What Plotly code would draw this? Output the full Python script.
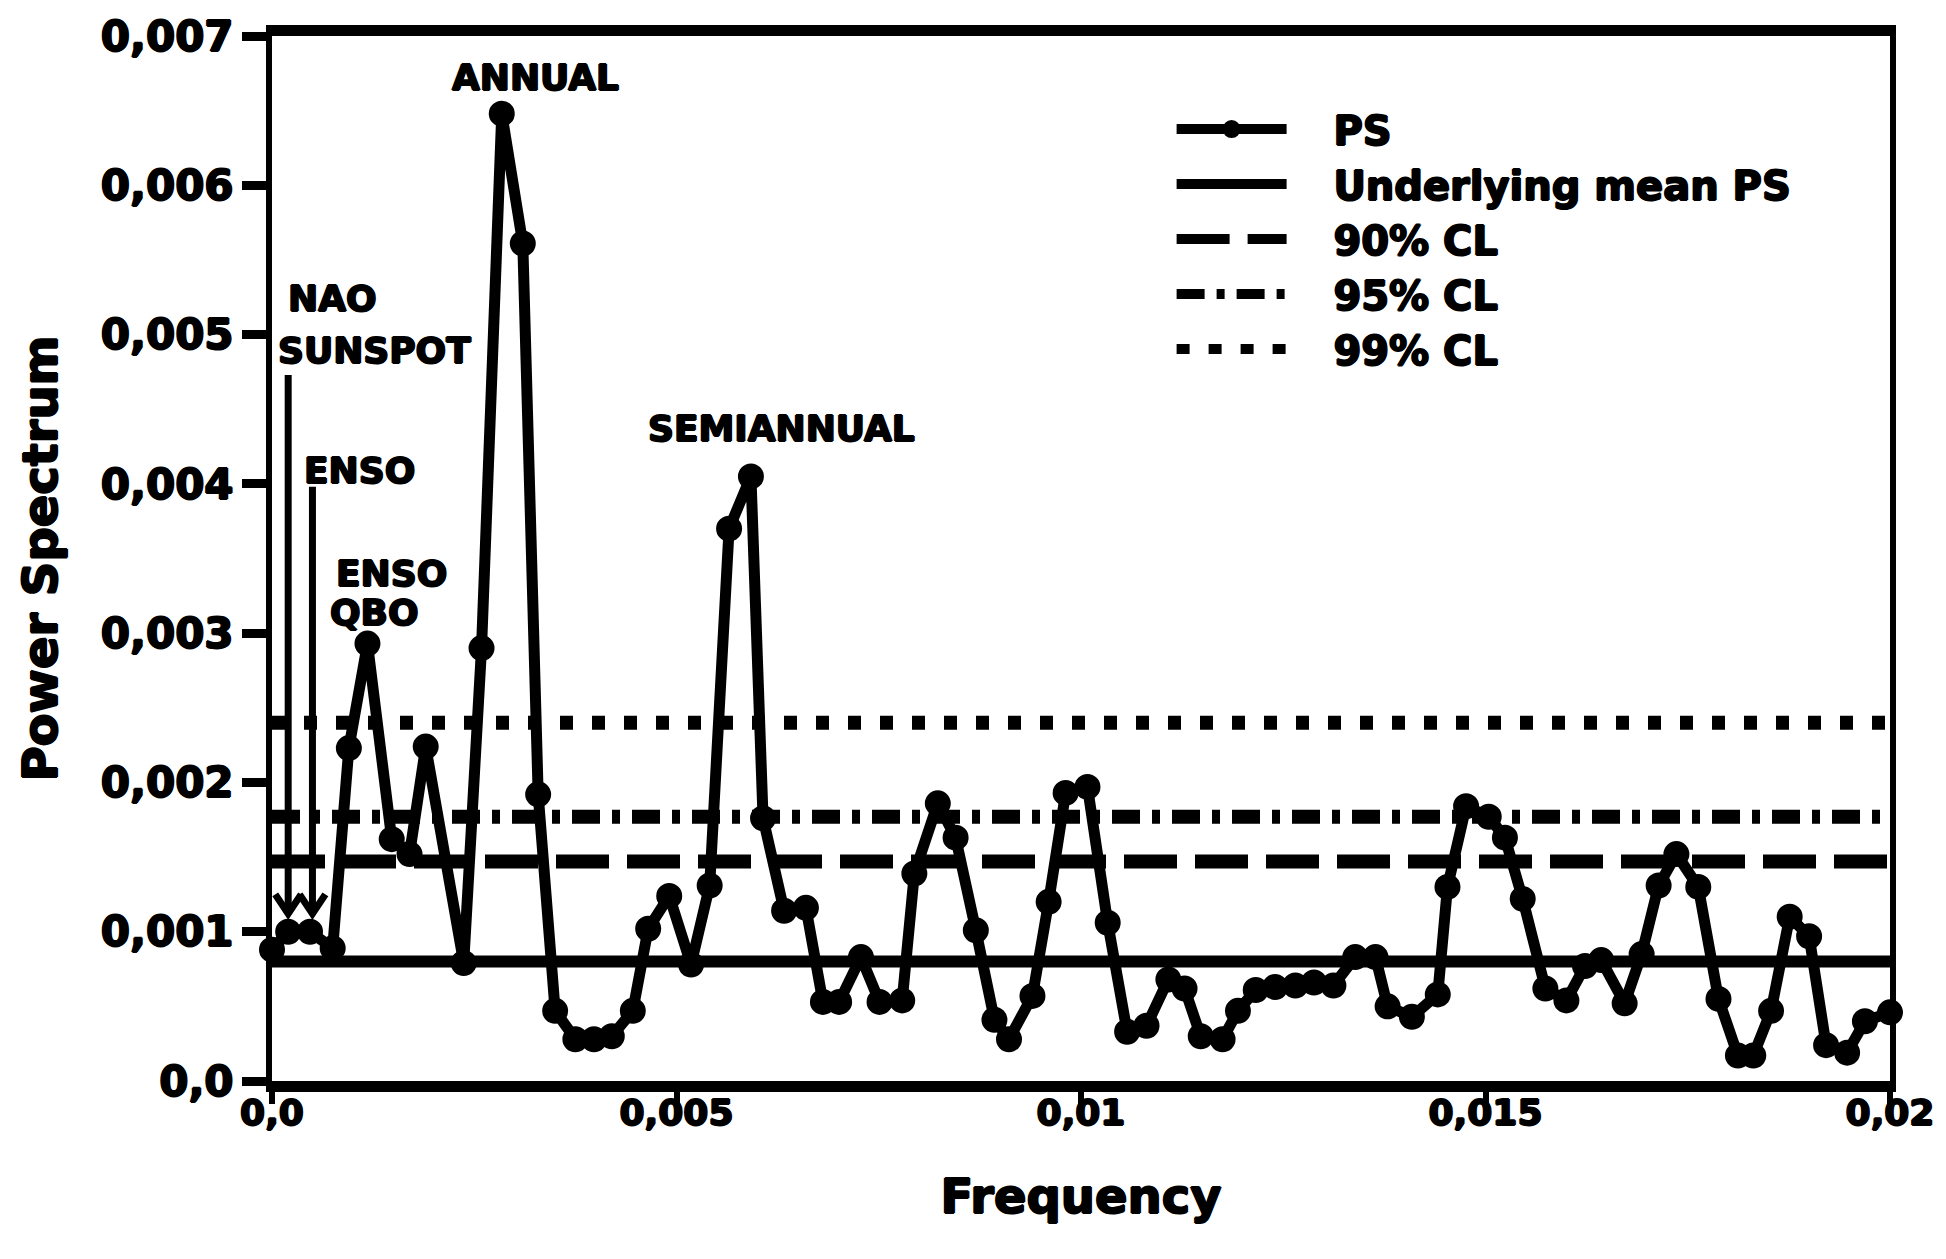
import plotly.graph_objects as go

# Power spectrum estimate (frequency in cycles per day)
freq = [0.0, 0.0002, 0.00047, 0.00075, 0.00095, 0.00118, 0.00148, 0.0017, 0.0019, 0.00237,
        0.00259, 0.00284, 0.0031, 0.00329, 0.0035, 0.00375, 0.00398, 0.0042, 0.00446, 0.00465,
        0.00491, 0.00518, 0.00541, 0.00565, 0.00592, 0.00607, 0.00633, 0.0066, 0.00681, 0.00701,
        0.00728, 0.00751, 0.00779, 0.00794, 0.00823, 0.00845, 0.0087, 0.00893, 0.00911, 0.0094,
        0.0096, 0.00981, 0.01008, 0.01033, 0.01057, 0.01081, 0.01108, 0.01128, 0.01148, 0.01175,
        0.01194, 0.01216, 0.0124, 0.01265, 0.01288, 0.01312, 0.01339, 0.01364, 0.01379, 0.01409,
        0.01441, 0.01453, 0.01476, 0.01504, 0.01524, 0.01546, 0.01574, 0.016, 0.01623, 0.01643,
        0.01672, 0.01693, 0.01714, 0.01736, 0.01763, 0.01788, 0.01812, 0.01831, 0.01853, 0.01876,
        0.019, 0.01921, 0.01947, 0.01969, 0.02]

power = [0.00088, 0.001, 0.001, 0.00089, 0.00223, 0.00293, 0.00162, 0.00152, 0.00224, 0.00079,
         0.0029, 0.00648, 0.00561, 0.00192, 0.00047, 0.00028, 0.00028, 0.0003, 0.00047, 0.00102,
         0.00124, 0.00078, 0.00131, 0.0037, 0.00405, 0.00176, 0.00114, 0.00116, 0.00053, 0.00053,
         0.00083, 0.00053, 0.00054, 0.00139, 0.00186, 0.00163, 0.00101, 0.00041, 0.00028, 0.00057,
         0.0012, 0.00193, 0.00197, 0.00106, 0.00033, 0.00037, 0.00068, 0.00062, 0.0003, 0.00028,
         0.00047, 0.00061, 0.00063, 0.00064, 0.00066, 0.00064, 0.00083, 0.00083, 0.0005, 0.00043,
         0.00058, 0.0013, 0.00184, 0.00177, 0.00163, 0.00122, 0.00062, 0.00054, 0.00077, 0.00081,
         0.00052, 0.00085, 0.00131, 0.00152, 0.0013, 0.00055, 0.00017, 0.00017, 0.00047, 0.0011,
         0.00097, 0.00024, 0.00019, 0.0004, 0.00046]

# Background spectrum and confidence levels
level_names = ["Underlying mean PS", "90% CL", "95% CL", "99% CL"]
level_values = [0.0008, 0.00147, 0.00177, 0.0024]
level_dashes = ["solid", "53px,18px", "28px,12px,8px,12px", "13px,19px"]
level_widths = [12, 14, 14, 14]

# Peak labels
peak_labels = ["ANNUAL", "SEMIANNUAL", "NAO", "SUNSPOT", "ENSO", "ENSO", "QBO"]
peak_label_f = [0.003256, 0.0063, 0.000753, 0.00127, 0.00108, 0.00148, 0.00127]
peak_label_v = [0.00672, 0.00437, 0.00524, 0.00489, 0.00409, 0.0034, 0.00314]

# Low-frequency markers (vertical pointers with open arrowheads)
pointer_f = [0.0002, 0.0005]
pointer_top = [0.00473, 0.00398]
pointer_tip = [0.00112, 0.00112]
arrow_dx = 0.00016
arrow_dv = 0.00013

x_tickvals = [0.0, 0.005, 0.01, 0.015, 0.02]
x_ticktext = ["0,0", "0,005", "0,01", "0,015", "0,02"]
y_tickvals = [0.0, 0.001, 0.002, 0.003, 0.004, 0.005, 0.006, 0.007]
y_ticktext = ["0,0", "0,001", "0,002", "0,003", "0,004", "0,005", "0,006", "0,007"]

FONT = "DejaVu Sans"
# a thin outline thickens the bold glyphs into a heavy, poster-like weight
HEAVY = "1px 0 0 black, -1px 0 0 black, 0 1px 0 black, 0 -1px 0 black"
PAD = "\u00a0\u00a0\u00a0"


def heavy_font(size):
    return dict(family=FONT, size=size, color="black", weight="bold", shadow=HEAVY)


fig = go.Figure()

fig.add_trace(go.Scatter(
    x=freq, y=power, name=PAD + "PS", mode="lines+markers",
    line=dict(color="black", width=11),
    marker=dict(color="black", size=24, symbol="circle", line=dict(color="black", width=2)),
    cliponaxis=False,
))

for name, val, dash, w in zip(level_names, level_values, level_dashes, level_widths):
    fig.add_trace(go.Scatter(
        x=[x_tickvals[0], x_tickvals[-1]], y=[val, val], name=PAD + name, mode="lines",
        line=dict(color="black", width=w, dash=dash),
    ))

for f, top, tip in zip(pointer_f, pointer_top, pointer_tip):
    fig.add_trace(go.Scatter(
        x=[f, f, None, f - arrow_dx, f, f + arrow_dx],
        y=[top, tip, None, tip + arrow_dv, tip, tip + arrow_dv],
        mode="lines", line=dict(color="black", width=7),
        showlegend=False, hoverinfo="skip",
    ))

for txt, f, v in zip(peak_labels, peak_label_f, peak_label_v):
    fig.add_annotation(
        x=f, y=v, text=txt, showarrow=False, xanchor="center", yanchor="middle",
        font=heavy_font(36),
    )

fig.update_layout(
    width=1946, height=1259,
    margin=dict(l=272, r=54, t=32, b=178),
    paper_bgcolor="white", plot_bgcolor="white",
    showlegend=True,
    legend=dict(
        x=0.556, y=0.942, xanchor="left", yanchor="top",
        font=heavy_font(40),
        bgcolor="rgba(0,0,0,0)", borderwidth=0,
        itemwidth=110, tracegroupgap=0,
    ),
    xaxis=dict(
        range=[0, 0.02], showgrid=False, zeroline=False,
        showline=True, linecolor="black", linewidth=11, mirror=True,
        ticks="outside", ticklen=12, tickwidth=6, tickcolor="black",
        ticklabelstandoff=-22,
        tickvals=x_tickvals, ticktext=x_ticktext,
        tickfont=heavy_font(36),
        title=dict(text="Frequency", standoff=52, font=heavy_font(48)),
    ),
    yaxis=dict(
        range=[0, 0.007], showgrid=False, zeroline=False,
        showline=True, linecolor="black", linewidth=6, mirror=True,
        ticks="outside", ticklen=24, tickwidth=9, tickcolor="black",
        tickvals=y_tickvals, ticktext=y_ticktext,
        tickfont=heavy_font(42),
        title=dict(text="Power Spectrum", standoff=30, font=heavy_font(48)),
    ),
)

fig.write_html("out.html")
